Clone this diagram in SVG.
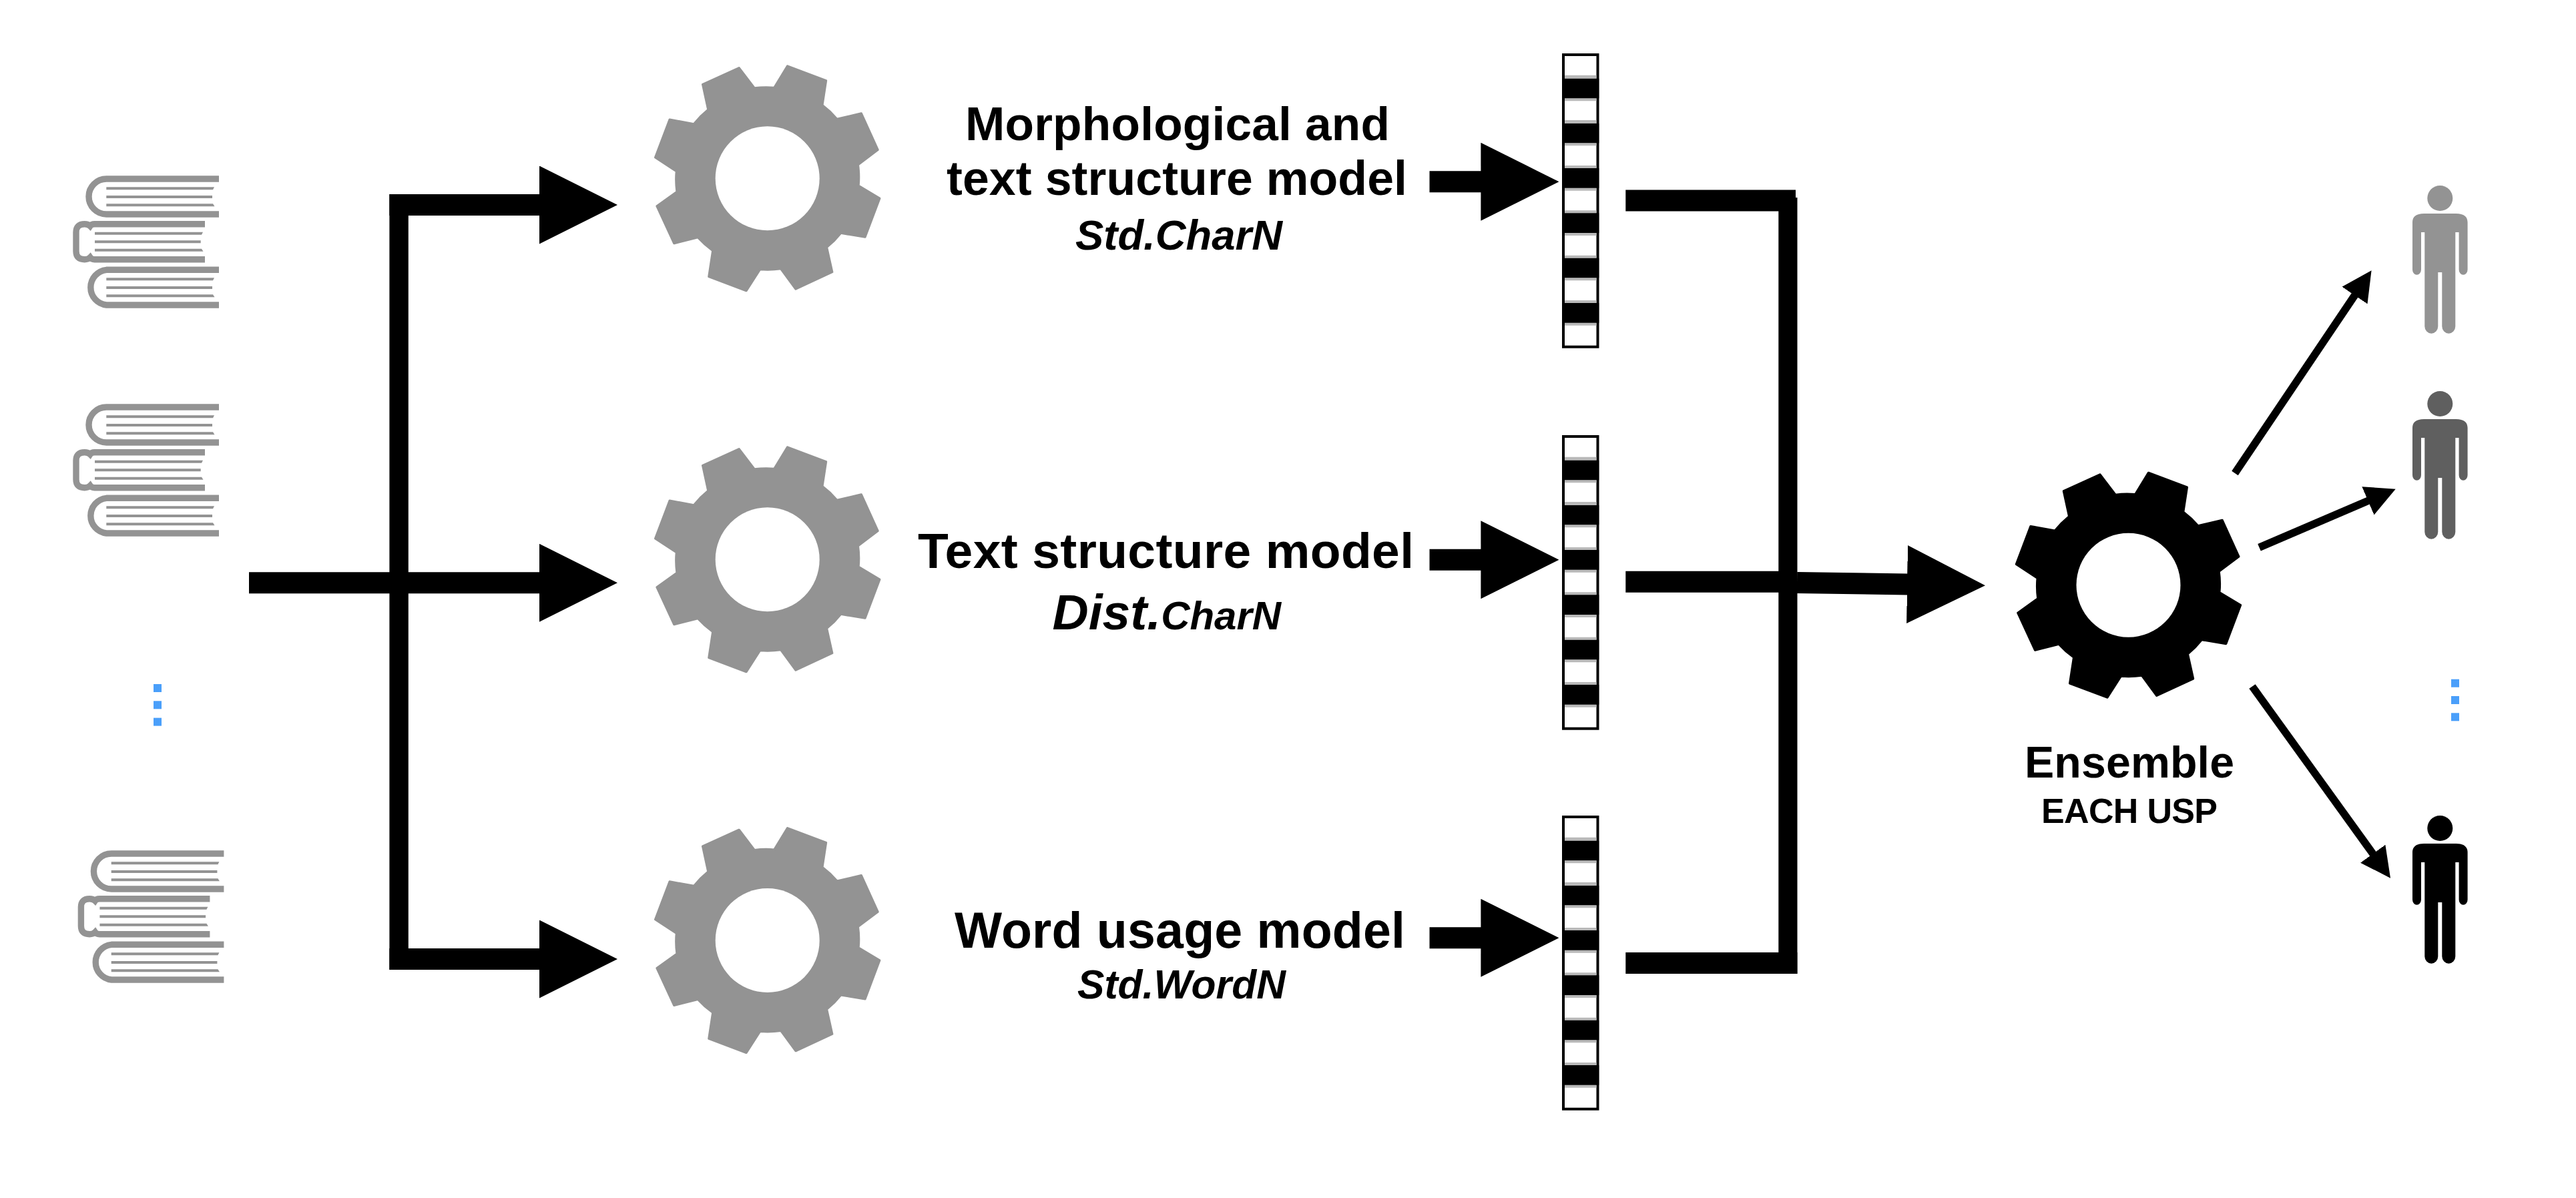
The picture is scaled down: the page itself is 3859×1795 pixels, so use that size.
<svg xmlns="http://www.w3.org/2000/svg" width="3859" height="1795" viewBox="0 0 3859 1795">
<style>
.t{font-family:"Liberation Sans",Arial,sans-serif;font-weight:700;fill:#000;text-anchor:start}
.i{font-style:italic}
.g1{fill:#939393;stroke:#939393}
.g2{fill:#000;stroke:#000}
.gear{stroke-width:3.4;stroke-linejoin:round}
.bk{fill:none;stroke:#939393;stroke-width:9.4}
.ln{fill:#939393}
.sh{fill:none;stroke:#000}
.big{stroke-width:32}
.small{stroke-width:11.5}
.dot{fill:#4a9ffa}
.band{fill:#b9b9b9}
</style>
<defs>
<marker id="headBig" markerUnits="userSpaceOnUse" viewBox="0 0 117 117" markerWidth="117" markerHeight="117" refX="1" refY="58.5" orient="auto"><path d="M0,0L117,58.5L0,117Z" fill="#000"/></marker>
<marker id="headSmall" markerUnits="userSpaceOnUse" viewBox="0 0 45 46" markerWidth="45" markerHeight="46" refX="1" refY="23" orient="auto"><path d="M0,0L45,23L0,46Z" fill="#000"/></marker>
<g id="gear">
<path class="gear" transform="scale(.99)" d="M-19.7,-136.7A137,137 0 0 1 10.3,-137.3L30.3,-170L88.7,-148L83,-110.7A137,137 0 0 1 105.3,-89.7L142,-98.3L167,-43.3L137,-20.7A137,137 0 0 1 137.7,11L169.7,30.3L147.7,88.7L111,82.7A137,137 0 0 1 89.7,104.3L98,141.7L42.7,167.3L20.3,136.7A137,137 0 0 1 -11.3,137.7L-32,170L-88.7,148.7L-82.7,109.3A137,137 0 0 1 -105.3,89.3L-141.3,98.3L-167.3,42L-137,20.3A137,137 0 0 1 -137.7,-10.7L-169.7,-31.7L-148,-89L-111.3,-82.3A137,137 0 0 1 -89.7,-104L-98,-142.3L-43,-167.3Z"/>
<circle r="78" fill="#fff" stroke="none"/>
</g>
<g id="books">
<path class="bk" d="M328,268H159.5A26.5,26.5 0 0 0 159.5,321H328"/>
<path class="ln" d="M159.3,280.3H321L319,284.3H159.3ZM159.3,293H318V297H159.3ZM159.3,305.3H319L321.5,309.3H159.3Z"/>
<path class="bk" d="M307,335.7H141.7Q137,335.7 135,338.7Q132,335.7 126.7,335.7Q114,335.7 114,348V376.5Q114,388.7 126.7,388.7Q132,388.7 135,385.7Q137,388.7 141.7,388.7H307"/>
<path class="ln" d="M142,347.7H304L302,351.7H142ZM142,360.3H300.7V364.3H142ZM142,372.7H302L304.5,376.7H142Z"/>
<path class="bk" d="M328,404.3H159.5A26.5,26.5 0 0 0 159.5,457H328"/>
<path class="ln" d="M159.3,416.3H321L319,420.3H159.3ZM159.3,429H318V433H159.3ZM159.3,441.3H319L321.5,445.3H159.3Z"/>
</g>
<g id="vec">
<rect x="2342" y="82" width="51.5" height="437.7" fill="#fff" stroke="#000" stroke-width="4"/>
<path class="band" d="M2344,112.7h47.5v5h-47.5ZM2344,147.3h47.5v4h-47.5ZM2344,180h47.5v5h-47.5ZM2344,214.3h47.5v4h-47.5ZM2344,248h47.5v4h-47.5ZM2344,281.7h47.5v4h-47.5ZM2344,315.3h47.5v4h-47.5ZM2344,349h47.5v4h-47.5ZM2344,382.7h47.5v4h-47.5ZM2344,416.3h47.5v4h-47.5ZM2344,450h47.5v4h-47.5ZM2344,483.7h47.5v4h-47.5Z"/>
<path d="M2340,117.7h55.3v29.6h-55.3ZM2340,185h55.3v29.3h-55.3ZM2340,252h55.3v29.7h-55.3ZM2340,319.3h55.3v29.7h-55.3ZM2340,386.7h55.3v29.6h-55.3ZM2340,454h55.3v29.7h-55.3Z" fill="#000"/>
</g>
<g id="person">
<circle cx="0" cy="-23" r="19"/>
<path d="M-24,0H24C36,0 41.3,5 41.3,13V84A6.5,7.7 0 0 1 28.3,84V28H23V169A10,10.7 0 0 1 3,169V88H-3V169A10,10.7 0 0 1 -23,169V28H-28.3V84A6.5,7.7 0 0 1 -41.3,84V13C-41.3,5 -36,0 -24,0Z"/>
</g>
</defs>
<rect width="3859" height="1795" fill="#fff"/>

<g id="connectors">
<path class="sh big" d="M373,873.3H809" marker-end="url(#headBig)"/>
<path class="sh big" d="M583.4,307H809" marker-end="url(#headBig)"/>
<path class="sh big" d="M583.4,1437H809" marker-end="url(#headBig)"/>
<path class="sh" stroke-width="28.4" d="M597.6,291V1453"/>
<path class="sh big" d="M2141.5,272.3H2219.4" marker-end="url(#headBig)"/>
<path class="sh big" d="M2141.5,838.7H2219.4" marker-end="url(#headBig)"/>
<path class="sh big" d="M2141.5,1405.3H2219.4" marker-end="url(#headBig)"/>
<path class="sh big" d="M2435.3,300.5H2690"/>
<path class="sh big" d="M2435.3,871.8H2678.5"/>
<path class="sh big" d="M2435.3,1443H2692.4"/>
<path class="sh" stroke-width="28.2" d="M2678.4,296V1459"/>
<path class="sh big" d="M2692,873L2858,875.5" marker-end="url(#headBig)"/>
<path class="sh small" d="M3348,709L3528,441.7" marker-end="url(#headSmall)"/>
<path class="sh small" d="M3384.5,820.3L3548.3,750" marker-end="url(#headSmall)"/>
<path class="sh small" d="M3374,1028.5L3555.3,1280" marker-end="url(#headSmall)"/>
</g>

<g id="books-1"><use href="#books"/></g>
<g id="books-2"><use href="#books" y="342"/></g>
<g id="dots-left" class="dot"><rect x="230" y="1025" width="12" height="12"/><rect x="230" y="1050.3" width="12" height="12"/><rect x="230" y="1075.6" width="12" height="12"/></g>
<g id="books-3"><use href="#books" x="7.4" y="1011"/></g>

<g id="gear-1" class="g1"><use href="#gear" x="1149.7" y="267.3"/></g>
<g id="gear-2" class="g1"><use href="#gear" x="1149.7" y="838.3"/></g>
<g id="gear-3" class="g1"><use href="#gear" x="1149.7" y="1409"/></g>

<g id="label-1">
<text class="t" x="1446" y="210" font-size="71.2" textLength="636">Morphological and</text>
<text class="t" x="1418" y="291.7" font-size="71.6" textLength="690">text structure model</text>
<text class="t i" x="1611" y="374.3" font-size="63.4">Std.CharN</text>
</g>
<g id="label-2">
<text class="t" x="1375" y="850.7" font-size="75" textLength="743">Text structure model</text>
<text class="t i" x="1576.6" y="942.7" font-size="75">Dist.<tspan font-size="60">CharN</tspan></text>
</g>
<g id="label-3">
<text class="t" x="1430" y="1420" font-size="75.3" textLength="675">Word usage model</text>
<text class="t i" x="1614" y="1496" font-size="60.6">Std.WordN</text>
</g>

<g id="vector-1"><use href="#vec"/></g>
<g id="vector-2"><use href="#vec" y="572"/></g>
<g id="vector-3"><use href="#vec" y="1142"/></g>

<g id="gear-ensemble" class="g2"><use href="#gear" x="3188.5" y="876.7"/></g>
<g id="label-ensemble">
<text class="t" x="3033" y="1165" font-size="66.3" textLength="314">Ensemble</text>
<text class="t" x="3058" y="1232.7" font-size="52" textLength="264">EACH USP</text>
</g>

<g id="person-1" fill="#939393"><use href="#person" x="3655.3" y="320"/></g>
<g id="person-2" fill="#5f5f5f"><use href="#person" x="3655.3" y="628"/></g>
<g id="dots-right" class="dot"><rect x="3672" y="1017.7" width="12" height="12"/><rect x="3672" y="1043" width="12" height="12"/><rect x="3672" y="1068.3" width="12" height="12"/></g>
<g id="person-3" fill="#000"><use href="#person" x="3655.3" y="1264"/></g>
</svg>
